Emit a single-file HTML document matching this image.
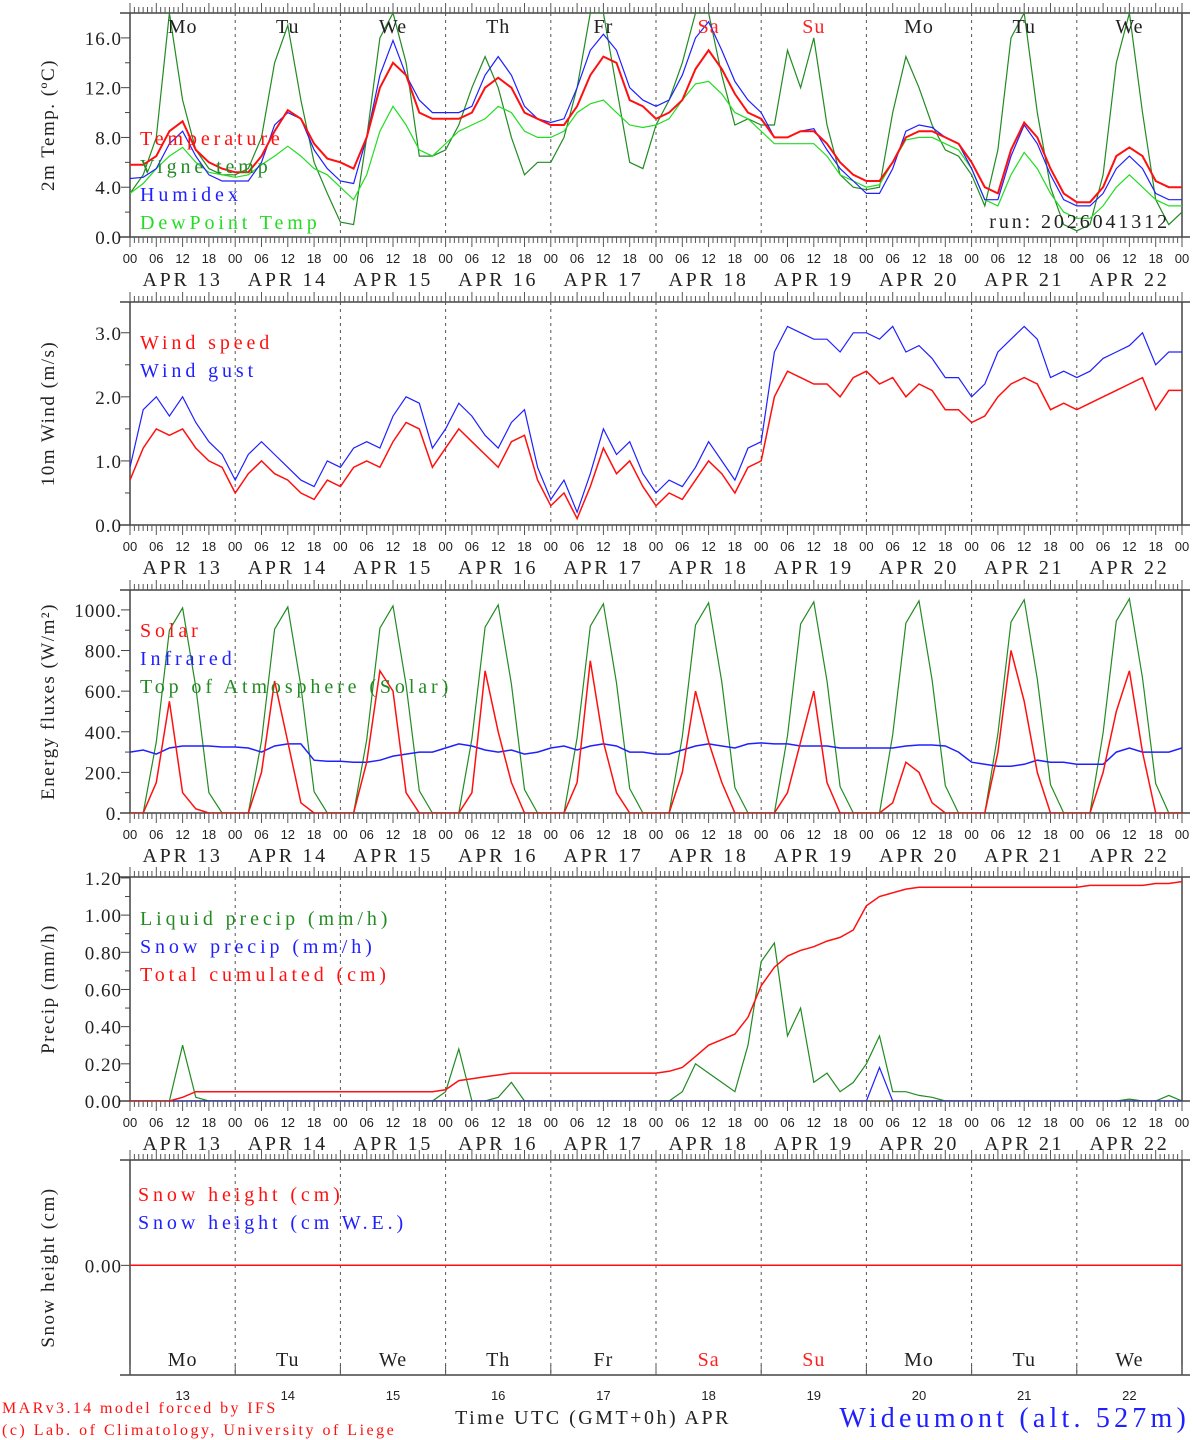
<!DOCTYPE html>
<html><head><meta charset="utf-8"><style>
body{margin:0;background:#fff;}
svg{display:block;font-family:"Liberation Serif",serif;}
</style></head><body>
<svg id="c" width="1194" height="1440" viewBox="0 0 1194 1440" xmlns="http://www.w3.org/2000/svg"></svg>
<script>
// ---- data (3-hourly, 00..24 per day, Apr 13 00 -> Apr 23 00) ----
const days = ["13","14","15","16","17","18","19","20","21","22"];
const dayNames = ["Mo","Tu","We","Th","Fr","Sa","Su","Mo","Tu","We"];
const tempTicks = [0,4,8,12,16];
const windTicks = [0,1,2,3];
const fluxTicks = [0,200,400,600,800,1000];
const precipTicks = [0,0.2,0.4,0.6,0.8,1.0,1.2];
const temperature = [5.8,5.8,6.5,8.5,9.3,7,6,5.5, 5.2,5.2,6.5,8.5,10.2,9.5,7.5,6.3, 6,5.5,8,12,14,13,10,9.5, 9.5,9.5,10,12,12.8,12,10,9.5, 9,9,10.5,13,14.5,14,11,10.5, 9.5,10,11,13.5,15,13.5,11.5,10, 9.5,8,8,8.5,8.5,7.5,6,5, 4.5,4.5,6,8,8.5,8.5,8,7.5, 6,4,3.5,7,9.2,8,5.5,3.5, 2.8,2.8,4,6.5,7.2,6.5,4.5,4,4];
const humidex = [4.7,4.8,5.5,7.5,8.5,6.5,5,4.5, 4.5,4.5,6,9,10,9.5,7,5.5, 4.5,4.3,8,13,15.8,13,11,10, 10,10,10.5,13,14.5,13,10.5,9.5, 9.2,9.5,12,15,16.3,15,12,11, 10.5,11,13,16,17.3,15,12.5,11, 10,8,8,8.5,8.7,7,5.5,4.5, 3.5,3.5,5.5,8.5,9,8.8,8,7.5, 5.5,3,3,6.5,9,7.5,5,3, 2.5,2.5,3.5,5.5,6.5,5.5,3.5,3,3];
const dewpoint = [3.5,4.3,5.5,6.5,7.2,6,5.2,5, 4.8,5,5.8,6.5,7.3,6.5,5.5,5, 4,3,5,8.5,10.5,9,7,6.5, 7.5,8.5,9,9.5,10.5,10,8.5,8, 8,8.5,10,10.7,11,10,9,8.8, 9,9.5,11,12.3,12.5,11.5,10,9.5, 8.5,7.5,7.5,7.5,7.5,6.5,5,4.5, 4,4.2,6,7.8,8,8,7.5,7, 5.5,3,2.5,5,6.8,5.5,3.5,2, 1.5,1.5,2.5,4,5,4,3,2.5,2.5];
const vigne = [3.5,5,8,18,11,7,5.5,5, 5,5.5,8,14,17,11,6,3.5, 1.2,1,8,16,18,14,6.5,6.5, 7,9,12,14.5,12,8,5,6, 6,8,12,18,18,12,6,5.5, 9,11,14,18,18,13,9,9.5, 9,9,15,12,16,9,5,4, 3.8,4,10,14.5,12,9,7,6.5, 5,2.5,7,16,18,10,4,1, 0.5,1,5,14,18,10,3,1,2];
const windSpeed = [0.7,1.2,1.5,1.4,1.5,1.2,1.0,0.9, 0.5,0.8,1.0,0.8,0.7,0.5,0.4,0.7, 0.6,0.9,1.0,0.9,1.3,1.6,1.5,0.9, 1.2,1.5,1.3,1.1,0.9,1.3,1.4,0.7, 0.3,0.5,0.1,0.6,1.2,0.8,1.0,0.6, 0.3,0.5,0.4,0.7,1.0,0.8,0.5,0.9, 1.0,2.0,2.4,2.3,2.2,2.2,2.0,2.3, 2.4,2.2,2.3,2.0,2.2,2.1,1.8,1.8, 1.6,1.7,2.0,2.2,2.3,2.2,1.8,1.9, 1.8,1.9,2.0,2.1,2.2,2.3,1.8,2.1,2.1];
const windGust = [0.9,1.8,2.0,1.7,2.0,1.6,1.3,1.1, 0.7,1.1,1.3,1.1,0.9,0.7,0.6,1.0, 0.9,1.2,1.3,1.2,1.7,2.0,1.9,1.2, 1.5,1.9,1.7,1.4,1.2,1.6,1.8,0.9, 0.4,0.7,0.2,0.8,1.5,1.1,1.3,0.8, 0.5,0.7,0.6,0.9,1.3,1.0,0.7,1.2, 1.3,2.7,3.1,3.0,2.9,2.9,2.7,3.0, 3.0,2.9,3.1,2.7,2.8,2.6,2.3,2.3, 2.0,2.2,2.7,2.9,3.1,2.9,2.3,2.4, 2.3,2.4,2.6,2.7,2.8,3.0,2.5,2.7,2.7];
const solar = [0,0,150,550,100,20,0,0, 0,0,200,650,350,50,0,0, 0,0,250,700,600,100,0,0, 0,0,100,700,400,150,0,0, 0,0,150,750,350,100,0,0, 0,0,200,600,350,150,0,0, 0,0,100,350,600,150,0,0, 0,0,50,250,200,50,0,0, 0,0,300,800,550,200,0,0, 0,0,200,500,700,300,0,0,0];
const infrared = [300,310,290,320,330,330,330,325, 325,320,300,330,340,340,260,255, 255,250,250,260,280,290,300,300, 320,340,330,310,300,310,290,300, 320,330,310,330,340,330,300,300, 290,290,310,330,340,330,320,340, 345,340,340,330,330,330,320,320, 320,320,320,330,335,335,330,300, 250,240,230,230,240,260,250,250, 240,240,240,300,320,300,300,300,320];
const toa = [0,0,350,900,1010,620,100,0, 0,0,355,905,1015,625,105,0, 0,0,360,910,1020,630,110,0, 0,0,365,915,1025,635,115,0, 0,0,370,920,1030,640,120,0, 0,0,375,925,1035,645,125,0, 0,0,380,930,1040,650,130,0, 0,0,385,935,1045,655,135,0, 0,0,390,940,1050,660,140,0, 0,0,395,945,1055,665,145,0,0];
const liquid = [0,0,0,0,0.3,0.02,0,0, 0,0,0,0,0,0,0,0, 0,0,0,0,0,0,0,0, 0.05,0.28,0,0,0.02,0.1,0,0, 0,0,0,0,0,0,0,0, 0,0,0.05,0.2,0.15,0.1,0.05,0.3, 0.75,0.85,0.35,0.5,0.1,0.15,0.05,0.1, 0.2,0.35,0.05,0.05,0.03,0.02,0,0, 0,0,0,0,0,0,0,0, 0,0,0,0,0.01,0,0,0.03,0];
const snowPrecip = [0,0,0,0,0,0,0,0, 0,0,0,0,0,0,0,0, 0,0,0,0,0,0,0,0, 0,0,0,0,0,0,0,0, 0,0,0,0,0,0,0,0, 0,0,0,0,0,0,0,0, 0,0,0,0,0,0,0,0, 0,0.18,0,0,0,0,0,0, 0,0,0,0,0,0,0,0, 0,0,0,0,0,0,0,0,0];
const cumul = [0,0,0,0,0.02,0.05,0.05,0.05, 0.05,0.05,0.05,0.05,0.05,0.05,0.05,0.05, 0.05,0.05,0.05,0.05,0.05,0.05,0.05,0.05, 0.06,0.11,0.12,0.13,0.14,0.15,0.15,0.15, 0.15,0.15,0.15,0.15,0.15,0.15,0.15,0.15, 0.15,0.16,0.18,0.24,0.3,0.33,0.36,0.45, 0.62,0.72,0.78,0.81,0.83,0.86,0.88,0.92, 1.05,1.1,1.12,1.14,1.15,1.15,1.15,1.15, 1.15,1.15,1.15,1.15,1.15,1.15,1.15,1.15, 1.15,1.16,1.16,1.16,1.16,1.16,1.17,1.17,1.18];
const snowHeight = [0,0,0,0,0,0,0,0,0,0,0];

// ---- drawing ----
const NS="http://www.w3.org/2000/svg", svg=document.getElementById('c');
const X0=130,X1=1182;
function xh(h){return X0+h*(X1-X0)/240;}
function el(t,a,p){const e=document.createElementNS(NS,t);for(const k in a)e.setAttribute(k,a[k]);(p||svg).appendChild(e);return e;}
function txt(s,x,y,a,p){const e=el('text',Object.assign({x:x,y:y},a),p);e.textContent=s;return e;}
const panels=[
 {name:'temperature-panel',top:13,bot:237,min:0,max:18.0,ticks:tempTicks,fmt:v=>v.toFixed(1),label:'2m Temp. (ºC)'},
 {name:'wind-panel',top:302,bot:525,min:0,max:3.48,ticks:windTicks,fmt:v=>v.toFixed(1),label:'10m Wind (m/s)'},
 {name:'flux-panel',top:590,bot:813,min:0,max:1098,ticks:fluxTicks,fmt:v=>v+'.',label:'Energy fluxes (W/m²)'},
 {name:'precip-panel',top:877,bot:1101,min:0,max:1.205,ticks:precipTicks,fmt:v=>v.toFixed(2),label:'Precip (mm/h)'},
 {name:'snow-panel',top:1160,bot:1375,min:-1.02,max:0.98,ticks:[0],fmt:v=>v.toFixed(2),label:'Snow height (cm)'}
];
panels.forEach((P,pi)=>{
  const g=el('g',{});  
  P.g=g; P.y=v=>P.bot-(v-P.min)/(P.max-P.min)*(P.bot-P.top);
  const cid='clip'+pi; const cp=el('clipPath',{id:cid},g); el('rect',{x:X0,y:P.top,width:X1-X0,height:P.bot-P.top},cp);
  P.clip='url(#'+cid+')';
  el('line',{x1:X0,y1:P.top,x2:X0,y2:P.bot,stroke:'#444','stroke-width':1.5},g);
  el('line',{x1:X1,y1:P.top,x2:X1,y2:P.bot,stroke:'#444','stroke-width':1.5},g);
  el('line',{x1:120,y1:P.top,x2:X1+8,y2:P.top,stroke:'#444','stroke-width':1.5},g);
  el('line',{x1:120,y1:P.bot,x2:X1+8,y2:P.bot,stroke:'#444','stroke-width':1.5},g);
  for(let d=1;d<10;d++) el('line',{x1:xh(d*24),y1:P.top,x2:xh(d*24),y2:P.bot,stroke:'#555','stroke-dasharray':'3,4'},g);
  for(let h=0;h<=240;h++){
    const big=h%6==0;
    el('line',{x1:xh(h),y1:P.top,x2:xh(h),y2:P.top-(big?10:6),stroke:'#555'},g);
    if(pi<4) el('line',{x1:xh(h),y1:P.bot,x2:xh(h),y2:P.bot+(big?10:6),stroke:'#555'},g);
  }
  if(pi==4) for(let d=0;d<=10;d++) el('line',{x1:xh(d*24),y1:P.bot,x2:xh(d*24),y2:P.bot-10,stroke:'#555'},g);
  P.ticks.forEach((v,i)=>{const y=P.y(v);
    el('line',{x1:X0-9,y1:y,x2:X0,y2:y,stroke:'#444'},g);
    txt(P.fmt(v),122,y+7,{'text-anchor':'end','font-size':19,'letter-spacing':1,fill:'#222'},g);
    if(pi<4&&i<P.ticks.length-1){const y2=P.y((v+P.ticks[i+1])/2);el('line',{x1:X0-5,y1:y2,x2:X0,y2:y2,stroke:'#444'},g);}
  });
  const yl=txt(P.label,0,0,{transform:`translate(54,${(P.top+P.bot)/2}) rotate(-90)`,'text-anchor':'middle','font-size':19,'letter-spacing':1.5,fill:'#222'},g);
  
  
  if(pi<4){
    for(let d=0;d<10;d++){
      ['00','06','12','18'].forEach((s,k)=>txt(s,xh(d*24+k*6),P.bot+26,{'text-anchor':'middle','font-size':13,'font-family':'Liberation Sans, sans-serif',fill:'#222'},g));
      txt('APR '+days[d],xh(d*24+12),P.bot+49,{'text-anchor':'middle','font-size':20,'letter-spacing':2.7,fill:'#222'},g);
    }
    txt('00',X1,P.bot+26,{'text-anchor':'middle','font-size':13,'font-family':'Liberation Sans, sans-serif',fill:'#222'},g);
  }
});
function series(P,arr,color,w,name,step){
  const pts=arr.map((v,i)=>xh(i*(step||3)).toFixed(1)+','+P.y(v).toFixed(1)).join(' ');
  const e=el('polyline',{points:pts,fill:'none',stroke:color,'stroke-width':w,'clip-path':P.clip},P.g);
  
  
}
function legend(P,items,x,y0){items.forEach((it,i)=>{const e=txt(it[0],x,y0+i*28,{'font-size':20,'letter-spacing':3.9,fill:it[1]},P.g);
  
  });}
const [P1,P2,P3,P4,P5]=panels;
series(P1,vigne,'#228b22',1.2,'vigne-temp-line');
series(P1,dewpoint,'#22dd22',1.2,'dewpoint-line');
series(P1,humidex,'#2020ff',1.2,'humidex-line');
series(P1,temperature,'#ff1010',2,'temperature-line');
legend(P1,[['Temperature','#ff1010'],['Vigne temp','#228b22'],['Humidex','#2020ff'],['DewPoint Temp','#22dd22']],140,145);
txt('run: 2026041312',1170,228,{'text-anchor':'end','font-size':20,'letter-spacing':2.9,fill:'#222'},P1.g);
dayNames.forEach((n,d)=>txt(n,xh(d*24+12),33,{'text-anchor':'middle','font-size':20,'letter-spacing':1,fill:(d==5||d==6)?'#ff2020':'#222'},P1.g));
series(P2,windGust,'#2020ff',1.2,'wind-gust-line');
series(P2,windSpeed,'#ff1010',1.5,'wind-speed-line');
legend(P2,[['Wind speed','#ff1010'],['Wind gust','#2020ff']],140,349);
series(P3,toa,'#228b22',1.2,'toa-solar-line');
series(P3,infrared,'#2020ff',1.5,'infrared-line');
series(P3,solar,'#ff1010',1.5,'solar-line');
legend(P3,[['Solar','#ff1010'],['Infrared','#2020ff'],['Top of Atmosphere (Solar)','#228b22']],140,637);
series(P4,liquid,'#228b22',1.2,'liquid-precip-line');
series(P4,snowPrecip,'#2020ff',1.2,'snow-precip-line');
series(P4,cumul,'#ff1010',1.5,'cumulated-precip-line');
legend(P4,[['Liquid precip (mm/h)','#228b22'],['Snow precip (mm/h)','#2020ff'],['Total cumulated (cm)','#ff1010']],140,925);
series(P5,snowHeight,'#ff1010',1.5,'snow-height-line',24);
legend(P5,[['Snow height (cm)','#ff1010'],['Snow height (cm W.E.)','#2020ff']],138,1201);
dayNames.forEach((n,d)=>{txt(n,xh(d*24+12),1366,{'text-anchor':'middle','font-size':20,'letter-spacing':1,fill:(d==5||d==6)?'#ff2020':'#222'},P5.g);
  txt(days[d],xh(d*24+12),1400,{'text-anchor':'middle','font-size':13,'font-family':'Liberation Sans, sans-serif',fill:'#222'},P5.g);});
txt('Time UTC (GMT+0h) APR',593,1424,{'text-anchor':'middle','font-size':20,'letter-spacing':2.5,fill:'#222'});
txt('MARv3.14 model forced by IFS',2,1413,{'font-size':16,'letter-spacing':2.4,fill:'#ff1010'});
txt('(c) Lab. of Climatology, University of Liege',2,1435,{'font-size':16,'letter-spacing':2.5,fill:'#ff1010'});
txt('Wideumont (alt. 527m)',1190,1427,{'text-anchor':'end','font-size':28,'letter-spacing':4.2,fill:'#2020ff'});
</script>
</body></html>
